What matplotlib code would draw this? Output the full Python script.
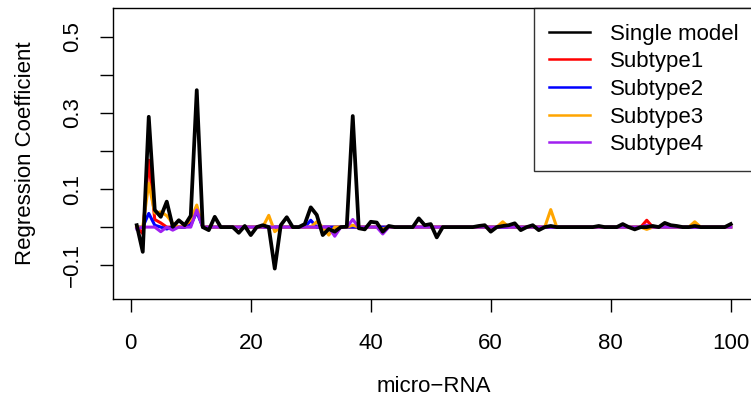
import numpy as np
import matplotlib
matplotlib.use("Agg")
import matplotlib.pyplot as plt
from matplotlib.lines import Line2D

plt.rcParams["font.family"] = ["Liberation Sans", "DejaVu Sans"]

mirna = np.arange(1, 101)

single_model = [
    0.005, -0.065, 0.290, 0.045, 0.027, 0.067, 0.001, 0.018, 0.005, 0.030,
    0.360, 0.000, -0.008, 0.027, 0.000, 0.000, 0.000, -0.015, 0.003, -0.021,
    0.000, 0.005, 0.000, -0.109, 0.005, 0.026, 0.000, 0.000, 0.008, 0.052,
    0.032, -0.021, -0.005, -0.012, 0.000, 0.001, 0.292, -0.003, -0.006, 0.014,
    0.012, -0.012, 0.003, 0.000, 0.000, 0.000, 0.000, 0.023, 0.005, 0.008,
    -0.027, 0.000, 0.000, 0.000, 0.000, 0.000, 0.000, 0.003, 0.005, -0.012,
    0.000, 0.003, 0.005, 0.010, -0.008, 0.000, 0.005, -0.008, 0.000, 0.003,
    0.000, 0.000, 0.000, 0.000, 0.000, 0.000, 0.000, 0.003, 0.000, 0.000,
    0.000, 0.008, 0.000, -0.006, 0.000, 0.000, 0.003, 0.000, 0.011, 0.005,
    0.003, 0.000, 0.000, 0.003, 0.000, 0.000, 0.000, 0.000, 0.000, 0.008,
]

subtype1 = [
    0.000, -0.017, 0.176, 0.020, 0.011, 0.000, 0.000, 0.000, 0.000, 0.010,
    0.050, 0.000, 0.000, 0.000, 0.000, 0.000, 0.000, 0.000, 0.000, 0.000,
    0.000, 0.000, 0.000, 0.000, 0.000, 0.000, 0.000, 0.000, 0.000, 0.000,
    0.000, 0.000, 0.000, 0.000, 0.000, 0.000, 0.000, 0.000, 0.000, 0.000,
    0.000, 0.000, 0.000, 0.000, 0.000, 0.000, 0.000, 0.000, 0.000, 0.000,
    0.000, 0.000, 0.000, 0.000, 0.000, 0.000, 0.000, 0.000, 0.000, 0.000,
    0.000, 0.000, 0.000, 0.000, 0.000, 0.000, 0.000, 0.000, 0.000, 0.000,
    0.000, 0.000, 0.000, 0.000, 0.000, 0.000, 0.000, 0.000, 0.000, 0.000,
    0.000, 0.000, 0.000, 0.000, 0.000, 0.018, 0.000, 0.000, 0.000, 0.000,
    0.000, 0.000, 0.000, 0.000, 0.000, 0.000, 0.000, 0.000, 0.000, 0.000,
]

subtype2 = [
    0.000, 0.000, 0.036, 0.005, 0.000, -0.005, 0.000, 0.000, 0.000, 0.005,
    0.040, 0.000, 0.000, 0.000, 0.000, 0.000, 0.000, 0.000, 0.000, 0.000,
    0.000, 0.000, 0.000, 0.000, 0.000, 0.000, 0.000, 0.000, 0.000, 0.018,
    0.000, 0.000, 0.000, 0.000, 0.000, 0.000, 0.000, 0.000, 0.000, 0.000,
    0.000, 0.000, 0.000, 0.000, 0.000, 0.000, 0.000, 0.000, 0.000, 0.000,
    0.000, 0.000, 0.000, 0.000, 0.000, 0.000, 0.000, 0.000, 0.000, 0.000,
    0.000, 0.000, 0.000, 0.000, 0.000, 0.000, 0.000, 0.000, 0.000, 0.000,
    0.000, 0.000, 0.000, 0.000, 0.000, 0.000, 0.000, 0.000, 0.000, 0.000,
    0.000, 0.000, 0.000, 0.000, 0.000, 0.000, 0.000, 0.000, 0.000, 0.000,
    0.000, 0.000, 0.000, 0.000, 0.000, 0.000, 0.000, 0.000, 0.000, 0.000,
]

subtype3 = [
    0.000, 0.000, 0.115, 0.037, 0.040, 0.030, 0.010, 0.000, 0.005, 0.020,
    0.058, 0.000, 0.000, 0.000, 0.000, 0.000, 0.000, 0.000, 0.000, 0.000,
    0.000, 0.000, 0.031, -0.012, 0.000, 0.000, 0.000, 0.000, 0.000, 0.000,
    0.014, 0.000, -0.021, 0.000, 0.000, 0.000, 0.005, 0.000, 0.000, 0.000,
    0.000, -0.005, 0.000, 0.000, 0.000, 0.000, 0.000, 0.000, 0.000, 0.000,
    0.000, 0.000, 0.000, 0.000, 0.000, 0.000, 0.000, 0.000, 0.000, 0.000,
    0.000, 0.014, 0.000, 0.000, 0.000, 0.000, 0.000, 0.000, 0.000, 0.046,
    0.000, 0.000, 0.000, 0.000, 0.000, 0.000, 0.000, 0.000, 0.000, 0.000,
    0.000, 0.000, 0.000, 0.000, 0.000, -0.006, 0.000, 0.000, 0.000, 0.000,
    0.000, 0.000, 0.000, 0.014, 0.000, 0.000, 0.000, 0.000, 0.000, 0.000,
]

subtype4 = [
    -0.005, 0.000, 0.000, 0.000, -0.012, 0.000, -0.008, 0.000, 0.000, 0.000,
    0.045, 0.000, 0.000, 0.000, 0.000, 0.000, 0.000, 0.000, 0.000, 0.000,
    0.000, 0.000, 0.000, 0.000, 0.000, 0.000, 0.000, 0.000, 0.000, 0.000,
    0.000, 0.000, 0.000, -0.024, 0.000, 0.000, 0.020, 0.000, 0.000, 0.000,
    0.000, -0.018, 0.000, 0.000, 0.000, 0.000, 0.000, 0.000, 0.000, 0.000,
    0.000, 0.000, 0.000, 0.000, 0.000, 0.000, 0.000, 0.000, 0.000, 0.000,
    0.000, 0.000, 0.000, 0.000, 0.000, 0.000, 0.000, 0.000, 0.000, 0.000,
    0.000, 0.000, 0.000, 0.000, 0.000, 0.000, 0.000, 0.000, 0.000, 0.000,
    0.000, 0.000, 0.000, 0.000, 0.000, 0.005, 0.000, 0.000, 0.000, 0.000,
    0.000, 0.000, 0.000, 0.000, 0.000, 0.000, 0.000, 0.000, 0.000, 0.000,
]

names = ["Single model", "Subtype1", "Subtype2", "Subtype3", "Subtype4"]
colors = ["black", "#FF0000", "#0000FF", "#FFA500", "#A020F0"]

fig = plt.figure(figsize=(7.51, 4.03), dpi=100)
ax = fig.add_axes([113 / 751, 1 - 299 / 403, (754.5 - 113) / 751, (299 - 8) / 403])

# subtypes first, single model on top
for vals, c in zip([subtype1, subtype2, subtype3, subtype4], colors[1:]):
    ax.plot(mirna, vals, color=c, lw=2.2)
ax.plot(mirna, single_model, color="black", lw=2.7)

ax.set_xlim(-2.96, 103.96)
ax.set_ylim(-0.189, 0.576)
ax.set_xticks([0, 20, 40, 60, 80, 100])
ax.set_yticks([-0.1, 0.0, 0.1, 0.2, 0.3, 0.4, 0.5])
ax.set_yticklabels(["\u22120.1", "", "0.1", "", "0.3", "", "0.5"],
                   rotation=90, va="center")
ax.tick_params(axis="both", direction="out", length=9.4, width=1.0,
               labelsize=16, color="black")
ax.tick_params(axis="x", pad=15)
ax.tick_params(axis="y", pad=12)
for s in ax.spines.values():
    s.set_linewidth(1.0)

ax.set_xlabel("micro\u2212RNA", fontsize=16, labelpad=16)
ax.set_ylabel("Regression Coefficient", fontsize=16, labelpad=19)

handles = [Line2D([], [], color=c, lw=1.8) for c in colors]
leg = ax.legend(handles, names, loc="upper right", bbox_to_anchor=(1, 1),
                borderaxespad=0, fontsize=16, frameon=True, fancybox=False,
                handlelength=1.85, handletextpad=0.9, labelspacing=0.3,
                borderpad=0.7)
leg.get_frame().set_edgecolor("black")
leg.get_frame().set_linewidth(1.0)

fig.savefig("out.png", dpi=100)
